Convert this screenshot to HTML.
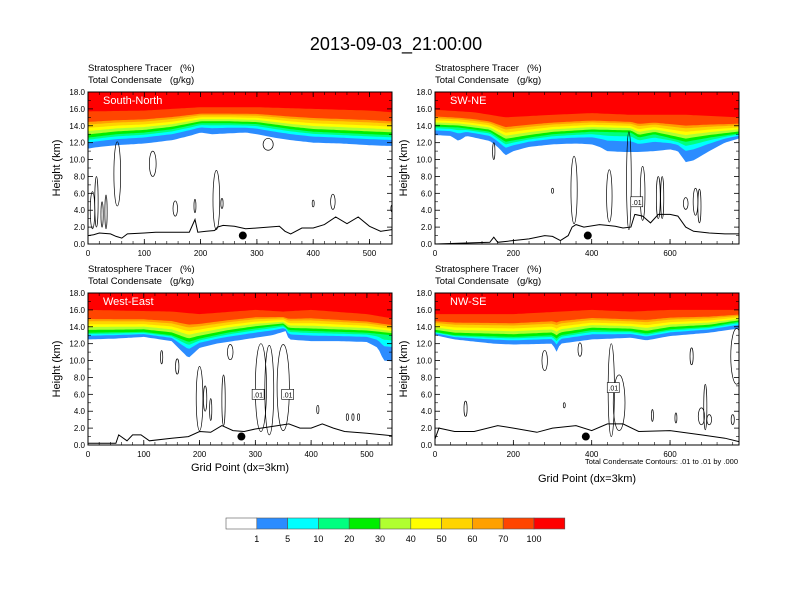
<!DOCTYPE html>
<html><head><meta charset="utf-8">
<style>
html,body{margin:0;padding:0;background:#fff;}
svg{display:block;font-family:"Liberation Sans",Arial,sans-serif;}
</style></head>
<body>
<svg id="chart" width="792" height="612" viewBox="0 0 792 612" xmlns="http://www.w3.org/2000/svg">
<text x="396" y="50" text-anchor="middle" font-size="18">2013-09-03_21:00:00</text>
<g id="panels"></g>
<g id="colorbar"></g>
</svg>
<script>
// ---- data ----
const bandColors = ["#ffffff","#2b8cff","#00ffff","#00ff80","#00ee00","#b0ff30","#ffff00","#ffd400","#ffa000","#ff4500","#ff0000"];
const bandLabels = ["1","5","10","20","30","40","50","60","70","100"];
const lowerFracs = [0.55,0.8];            // cyan, teal starts between base and mid
const upperFracs = [0.12,0.25,0.37,0.5,0.6]; // yg..orangered starts between mid and top
const panelTitles = ["South-North","SW-NE","West-East","NW-SE"];
const panelXMax = [540,776,545,776];
const xTicksA = [0,100,200,300,400,500];
const xTicksB = [0,200,400,600];
const yTicks = [0,2,4,6,8,10,12,14,16,18];

// tracer base (1% contour)
const baseTL_x = [0,20,50,100,150,180,200,220,250,280,300,330,360,400,450,500,540];
const baseTL_h = [11.3,11.5,11.7,11.9,12.3,12.8,13.2,13.0,13.1,13.2,13.0,12.6,12.3,12.0,11.9,11.7,11.6];
const baseTR_x = [0,40,60,80,140,160,180,200,240,300,360,400,420,440,480,520,560,600,620,640,660,700,740,776];
const baseTR_h = [12.9,12.8,12.2,12.8,12.2,11.5,10.5,11.0,11.5,11.8,11.9,11.8,11.5,11.0,10.9,10.9,11.0,11.2,11.0,9.7,9.9,11.0,12.0,12.5];
const baseBL_x = [0,50,100,150,165,180,200,230,280,330,355,360,400,450,500,520,530,545];
const baseBL_h = [12.5,12.6,12.8,12.3,11.3,10.3,11.5,12.0,12.5,13.0,13.5,12.5,12.3,12.3,12.2,11.5,10.0,9.9];
const baseBR_x = [0,50,150,200,300,310,320,400,500,540,600,700,776];
const baseBR_h = [13.0,12.5,12.0,11.9,12.0,11.0,12.0,12.5,12.7,12.4,12.9,13.3,13.8];
// green band bottom (30%)
const midTL_x = [0,50,100,150,200,250,300,360,400,500,540];
const midTL_h = [12.6,13.0,13.2,13.6,14.3,14.3,14.2,13.6,13.3,13.0,12.9];
const midTR_x = [0,60,140,180,240,300,400,500,520,560,640,700,776];
const midTR_h = [13.9,13.8,13.3,12.1,12.6,13.0,13.3,13.2,12.6,13.0,12.1,12.6,13.1];
const midBL_x = [0,100,150,180,200,250,300,350,360,400,500,545];
const midBL_h = [13.3,13.4,13.0,12.2,12.6,13.3,13.8,14.2,13.6,13.5,13.3,13.0];
const midBR_x = [0,50,200,300,310,320,400,500,540,600,700,776];
const midBR_h = [13.4,13.0,12.8,13.0,12.6,13.0,13.6,13.5,13.2,13.7,14.0,14.6];
// red band bottom (100%)
const topTL_x = [0,100,200,300,400,500,540];
const topTL_h = [15.7,15.8,16.2,16.2,16.0,15.8,15.6];
const topTR_x = [0,100,180,300,400,500,640,776];
const topTR_h = [15.9,15.6,15.0,15.3,15.5,15.3,15.3,15.0];
const topBL_x = [0,150,200,300,350,400,500,545];
const topBL_h = [16.0,15.8,15.5,16.0,15.8,16.0,15.5,15.0];
const topBR_x = [0,200,400,500,600,700,776];
const topBR_h = [15.5,15.5,16.0,15.8,16.0,16.0,16.0];

const terTL_x = [0,10,20,40,50,60,70,100,120,180,190,195,210,225,230,240,260,280,300,340,350,360,380,400,420,440,460,480,500,520,540];
const terTL_h = [1.0,1.1,1.3,1.2,0.9,0.7,1.2,1.3,1.4,1.4,2.9,1.4,1.5,1.6,2.0,2.2,2.1,1.8,1.9,2.1,1.5,1.2,1.9,1.9,2.3,3.2,2.4,3.2,2.1,1.5,1.7];
const terTR_x = [0,140,150,160,240,280,300,320,340,350,360,380,420,440,460,480,500,510,530,550,570,600,620,640,660,700,740,776];
const terTR_h = [0,0.2,0.8,0.2,0.6,1.0,0.9,0.4,1.0,2.0,2.3,2.0,2.3,2.2,2.1,1.9,2.0,3.5,3.3,2.5,3.5,3.5,3.3,2.0,1.5,1.3,1.2,1.2];
const terBL_x = [0,50,55,70,80,95,110,150,180,200,220,240,260,280,300,340,360,380,400,420,440,460,500,545];
const terBL_h = [0.2,0.2,1.2,0.5,1.2,1.2,0.5,0.8,1.0,1.6,1.5,2.3,1.7,1.6,1.9,2.3,2.5,2.0,2.0,2.5,2.0,1.6,1.4,1.1];
const terBR_x = [0,10,50,100,160,200,260,300,360,400,440,480,520,600,680,740,776];
const terBR_h = [0.7,2.0,1.6,1.6,2.3,2.0,1.5,2.0,2.3,1.7,2.5,2.5,1.6,1.7,1.2,0.8,0.4];

// contours: center grid, center km, half-width grid, half-height km
const conTL_cx = [8,15,25,32,52,115,155,190,228,238,320,400,435,540];
const conTL_cy = [4.0,5.0,3.5,3.8,8.3,9.5,4.2,4.5,5.2,4.8,11.8,4.8,5.0,4.2];
const conTL_rw = [4,3,2,2,6,6,4,1,6,2,9,1,4,2];
const conTL_rh = [2.2,3.0,1.5,2.0,3.8,1.5,0.9,0.8,3.5,0.6,0.7,0.4,0.9,0.4];
const conTR_cx = [150,300,355,445,495,530,570,580,640,665,675];
const conTR_cy = [11.0,6.3,6.4,5.7,7.5,6.0,5.5,5.5,4.8,5.0,4.5];
const conTR_rw = [3,1,8,7,6,6,5,4,6,6,4];
const conTR_rh = [1.0,0.3,4.0,3.1,5.8,3.2,2.5,2.5,0.7,1.6,2.0];
const conBL_cx = [132,160,200,210,220,243,255,310,325,350,412,465,475,485];
const conBL_cy = [10.4,9.3,5.5,5.5,4.2,5.3,11.0,6.8,6.5,6.8,4.2,3.3,3.3,3.3];
const conBL_rw = [2,3,6,3,2,3,5,10,8,11,2,2,2,2];
const conBL_rh = [0.8,0.9,3.8,1.5,1.3,3.0,0.9,5.2,5.3,5.1,0.5,0.4,0.4,0.4];
const conBR_cx = [78,280,330,370,450,470,555,615,655,680,690,700,760,770];
const conBR_cy = [4.3,10.0,4.7,11.3,6.5,5.0,3.5,3.2,10.5,3.4,4.5,3.0,3.0,10.5];
const conBR_rw = [4,7,1,5,8,15,2,2,4,8,4,6,4,15];
const conBR_rh = [0.9,1.2,0.3,0.8,5.5,3.3,0.7,0.6,1.0,1.0,2.7,0.6,0.6,3.3];

const dotX = [275,390,275,385];
const dotY = [1.0,1.0,1.0,1.0];

const lblP = [1,2,2,3];
const lblX = [515,305,358,455];
const lblY = [5.0,6.0,6.0,6.8];

// ---- layout ----
const frames = [
  {x0:88,x1:392,y0:92,y1:244},
  {x0:435,x1:739,y0:92,y1:244},
  {x0:88,x1:392,y0:293,y1:445},
  {x0:435,x1:739,y0:293,y1:445}
];
const bases = [[baseTL_x,baseTL_h],[baseTR_x,baseTR_h],[baseBL_x,baseBL_h],[baseBR_x,baseBR_h]];
const mids = [[midTL_x,midTL_h],[midTR_x,midTR_h],[midBL_x,midBL_h],[midBR_x,midBR_h]];
const tops = [[topTL_x,topTL_h],[topTR_x,topTR_h],[topBL_x,topBL_h],[topBR_x,topBR_h]];
const ters = [[terTL_x,terTL_h],[terTR_x,terTR_h],[terBL_x,terBL_h],[terBR_x,terBR_h]];
const cons = [[conTL_cx,conTL_cy,conTL_rw,conTL_rh],[conTR_cx,conTR_cy,conTR_rw,conTR_rh],[conBL_cx,conBL_cy,conBL_rw,conBL_rh],[conBR_cx,conBR_cy,conBR_rw,conBR_rh]];

function interp(xa,ha,x){
  if(x<=xa[0])return ha[0];
  for(let i=1;i<xa.length;i++){if(x<=xa[i]){const t=(x-xa[i-1])/(xa[i]-xa[i-1]);return ha[i-1]+t*(ha[i]-ha[i-1]);}}
  return ha[ha.length-1];
}

const NS="http://www.w3.org/2000/svg";
function mk(tag,attrs,parent){const e=document.createElementNS(NS,tag);for(const k in attrs)e.setAttribute(k,attrs[k]);parent.appendChild(e);return e;}
const panelsG=document.getElementById('panels');

frames.forEach((f,p)=>{
  const xs=v=>f.x0+(v/panelXMax[p])*(f.x1-f.x0);
  const ys=v=>f.y1-(v/18)*(f.y1-f.y0);
  const g=mk('g',{},panelsG);
  
  
  const cid='clip'+p;
  const cp=mk('clipPath',{id:cid},g);
  mk('rect',{x:f.x0,y:f.y0,width:f.x1-f.x0,height:f.y1-f.y0},cp);
  const pg=mk('g',{'clip-path':'url(#'+cid+')'},g);
  const bg=mk('rect',{x:f.x0,y:f.y0,width:f.x1-f.x0,height:f.y1-f.y0,fill:bandColors[10]},pg);
  
  
  const [bx,bh]=bases[p],[mx,mh]=mids[p],[tx0,th0]=tops[p];
  const level=(j,x)=>{
    const b=interp(bx,bh,x), m=Math.max(interp(mx,mh,x),b+0.3), t=Math.max(interp(tx0,th0,x),m+0.5);
    if(j===0)return b;
    if(j<=2)return b+lowerFracs[j-1]*(m-b);
    if(j===3)return m;
    if(j<=8)return m+upperFracs[j-4]*(t-m);
    return t;
  };
  const N=120;
  for(let j=9;j>=0;j--){
    let d='M'+f.x0+','+f.y1;
    for(let s=0;s<=N;s++){const x=panelXMax[p]*s/N;d+=' L'+xs(x).toFixed(1)+','+ys(level(j,x)).toFixed(1);}
    d+=' L'+f.x1+','+f.y1+' Z';
    const band=mk('path',{d:d,fill:bandColors[j]},pg);
    
    
  }
  const [cx,cy,rw,rh]=cons[p];
  cx.forEach((v,i)=>{
    const e=mk('ellipse',{cx:xs(v),cy:ys(cy[i]),rx:Math.max(1,xs(rw[i])-f.x0),ry:(f.y1-f.y0)*rh[i]/18,fill:'none',stroke:'#000','stroke-width':0.7},pg);
    
    
  });
  const [tx,th]=ters[p];
  let td='';
  tx.forEach((v,i)=>{td+=(i?' L':'M')+xs(v).toFixed(1)+','+ys(th[i]).toFixed(1);});
  const tl=mk('path',{d:td,fill:'none',stroke:'#000','stroke-width':1},pg);
  
  
  lblP.forEach((pp,i)=>{ if(pp!==p) return;
    const lx=xs(lblX[i]), ly=ys(lblY[i]);
    const r=mk('rect',{x:lx-6,y:ly-5,width:12,height:10,fill:'#fff',stroke:'#000','stroke-width':0.6},pg);
    
    
    const t=mk('text',{x:lx,y:ly+3,'text-anchor':'middle','font-size':7},pg);
    t.textContent='.01';
    
    
  });
  const dt=mk('circle',{cx:xs(dotX[p]),cy:ys(dotY[p]),r:4,fill:'#000'},pg);
  
  
  const pt=mk('text',{x:f.x0+15,y:f.y0+12,fill:'#fff','font-size':11},g);
  pt.textContent=panelTitles[p];
  
  
  const fr=mk('rect',{x:f.x0,y:f.y0,width:f.x1-f.x0,height:f.y1-f.y0,fill:'none',stroke:'#000','stroke-width':1},g);
  
  
  yTicks.forEach(v=>{
    const y=ys(v);
    mk('line',{x1:f.x0,x2:f.x0+5,y1:y,y2:y,stroke:'#000','stroke-width':0.8},g);
    mk('line',{x1:f.x1,x2:f.x1-5,y1:y,y2:y,stroke:'#000','stroke-width':0.8},g);
    const t=mk('text',{x:f.x0-3,y:y+3,'text-anchor':'end','font-size':8},g);
    t.textContent=v.toFixed(1);
    
    
  });
  for(let v=1;v<18;v+=2){const y=ys(v);
    mk('line',{x1:f.x0,x2:f.x0+3,y1:y,y2:y,stroke:'#000','stroke-width':0.6},g);
    mk('line',{x1:f.x1,x2:f.x1-3,y1:y,y2:y,stroke:'#000','stroke-width':0.6},g);}
  const xt=(p%2===0)?xTicksA:xTicksB;
  const step=(p%2===0)?20:40;
  for(let v=0;v<=panelXMax[p];v+=step){const x=xs(v);
    mk('line',{x1:x,x2:x,y1:f.y1,y2:f.y1-3,stroke:'#000','stroke-width':0.6},g);
    mk('line',{x1:x,x2:x,y1:f.y0,y2:f.y0+3,stroke:'#000','stroke-width':0.6},g);}
  xt.forEach(v=>{const x=xs(v);
    mk('line',{x1:x,x2:x,y1:f.y1,y2:f.y1-5,stroke:'#000','stroke-width':0.8},g);
    mk('line',{x1:x,x2:x,y1:f.y0,y2:f.y0+5,stroke:'#000','stroke-width':0.8},g);
    const t=mk('text',{x:x,y:f.y1+12,'text-anchor':'middle','font-size':8},g);
    t.textContent=String(v);
    
    
  });
  const s1=mk('text',{x:f.x0,y:f.y0-21,'font-size':9.5},g);
  s1.textContent='Stratosphere Tracer   (%)';
  
  
  s1.style.whiteSpace='pre';
  const s2=mk('text',{x:f.x0,y:f.y0-9,'font-size':9.5},g);
  s2.textContent='Total Condensate   (g/kg)';
  
  
  s2.style.whiteSpace='pre';
  const yc=(f.y0+f.y1)/2;
  const ya=mk('text',{x:f.x0-28,y:yc,'text-anchor':'middle','font-size':11,transform:'rotate(-90 '+(f.x0-28)+' '+yc+')'},g);
  ya.textContent='Height (km)';
  
  
});

const xa1=mk('text',{x:240,y:471,'text-anchor':'middle','font-size':11},panelsG);
xa1.textContent='Grid Point (dx=3km)';


const xa2=mk('text',{x:587,y:482,'text-anchor':'middle','font-size':11},panelsG);
xa2.textContent='Grid Point (dx=3km)';


const note=mk('text',{x:738,y:464,'text-anchor':'end','font-size':7.5},panelsG);
note.textContent='Total Condensate Contours: .01 to .01 by .000';



const cb=document.getElementById('colorbar');
const cbx0=226, cbw=30.8, cby=518, cbh=11;
bandColors.forEach((c,i)=>{
  const r=mk('rect',{x:cbx0+i*cbw,y:cby,width:cbw,height:cbh,fill:c,stroke:'#555','stroke-width':0.6},cb);
  
  
});
bandLabels.forEach((l,i)=>{
  const t=mk('text',{x:cbx0+(i+1)*cbw,y:cby+24,'text-anchor':'middle','font-size':9},cb);
  t.textContent=l;
  
  
});
</script>
</body></html>
